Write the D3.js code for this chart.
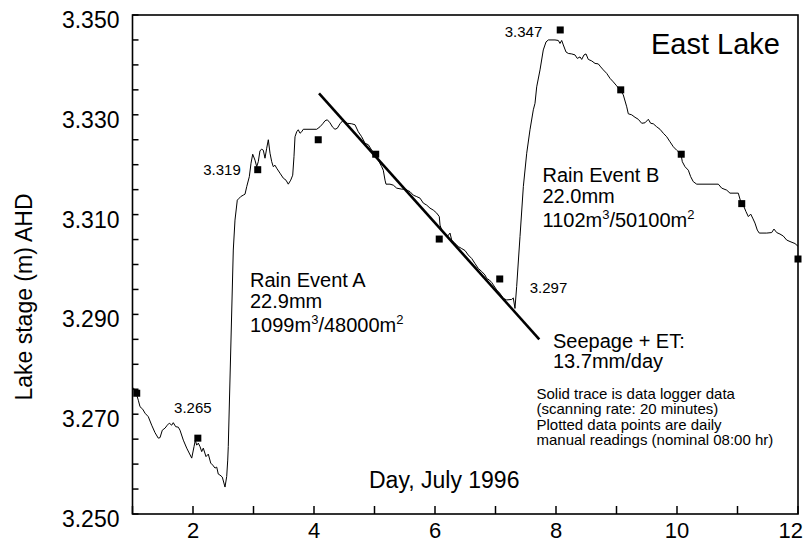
<!DOCTYPE html>
<html>
<head>
<meta charset="utf-8">
<script src="https://cdn.jsdelivr.net/npm/d3@7"></script>
<style>
  body { margin: 0; background: #fff; }
  svg { display: block; font-family: "Liberation Sans", Arial, Helvetica, sans-serif; }
</style>
</head>
<body>
<div id="chart-container"></div>
<script>
// data logger trace, [day of July 1996, lake stage m AHD]
const loggerTrace = [
  [1.013,3.2753],[1.053,3.2745],[1.096,3.2728],[1.124,3.2715],[1.169,3.2710],[1.207,3.2702],[1.261,3.2695],
  [1.317,3.2678],[1.372,3.2663],[1.426,3.2652],[1.455,3.2653],[1.493,3.2668],[1.537,3.2672],[1.575,3.2678],
  [1.608,3.2682],[1.648,3.2678],[1.674,3.2683],[1.714,3.2675],[1.757,3.2674],[1.785,3.2668],[1.840,3.2648],
  [1.896,3.2632],[1.979,3.2612],[2.017,3.2635],[2.038,3.2648],[2.061,3.2638],[2.088,3.2642],[2.116,3.2635],
  [2.144,3.2625],[2.170,3.2632],[2.215,3.2615],[2.253,3.2620],[2.293,3.2602],[2.326,3.2598],[2.364,3.2592],
  [2.392,3.2594],[2.418,3.2580],[2.446,3.2578],[2.484,3.2574],[2.529,3.2554],[2.557,3.2575],[2.574,3.2608],
  [2.583,3.2635],[2.666,3.3029],[2.694,3.3089],[2.732,3.3129],[2.765,3.3133],[2.788,3.3136],[2.831,3.3139],
  [2.860,3.3141],[2.888,3.3156],[2.931,3.3176],[2.959,3.3203],[2.987,3.3221],[3.025,3.3209],[3.053,3.3196],
  [3.079,3.3206],[3.107,3.3228],[3.136,3.3231],[3.162,3.3229],[3.190,3.3213],[3.218,3.3233],[3.245,3.3250],
  [3.273,3.3223],[3.301,3.3206],[3.327,3.3196],[3.355,3.3199],[3.383,3.3193],[3.438,3.3183],[3.493,3.3173],
  [3.537,3.3169],[3.575,3.3161],[3.615,3.3169],[3.648,3.3179],[3.669,3.3216],[3.686,3.3256],[3.714,3.3266],
  [3.740,3.3270],[3.769,3.3263],[3.797,3.3266],[3.823,3.3271],[4.045,3.3271],[4.099,3.3276],[4.144,3.3282],
  [4.182,3.3288],[4.220,3.3290],[4.264,3.3284],[4.309,3.3275],[4.347,3.3271],[4.385,3.3273],[4.430,3.3282],
  [4.474,3.3288],[4.512,3.3286],[4.550,3.3283],[4.623,3.3282],[4.678,3.3280],[4.732,3.3266],[4.788,3.3256],
  [4.843,3.3243],[4.898,3.3240],[4.954,3.3229],[5.008,3.3223],[5.063,3.3209],[5.119,3.3196],[5.145,3.3189],
  [5.174,3.3169],[5.190,3.3161],[5.256,3.3161],[5.311,3.3159],[5.367,3.3153],[5.450,3.3151],[5.504,3.3151],
  [5.587,3.3146],[5.641,3.3139],[5.698,3.3136],[5.752,3.3133],[5.807,3.3123],[5.863,3.3119],[5.917,3.3113],
  [5.972,3.3109],[6.028,3.3103],[6.071,3.3096],[6.083,3.3079],[6.111,3.3069],[6.165,3.3063],[6.203,3.3056],
  [6.248,3.3063],[6.276,3.3049],[6.331,3.3042],[6.385,3.3036],[6.441,3.3032],[6.496,3.3028],[6.550,3.3019],
  [6.607,3.3012],[6.661,3.3002],[6.716,3.2992],[6.772,3.2986],[6.826,3.2979],[6.855,3.2972],[6.898,3.2969],
  [6.937,3.2964],[7.020,3.2949],[7.074,3.2942],[7.129,3.2932],[7.185,3.2929],[7.268,3.2930],[7.294,3.2933],
  [7.322,3.2912],[7.350,3.2956],[7.405,3.3056],[7.460,3.3156],[7.516,3.3223],[7.570,3.3270],[7.625,3.3310],
  [7.653,3.3323],[7.681,3.3356],[7.736,3.3390],[7.790,3.3430],[7.835,3.3446],[7.873,3.3450],[7.983,3.3450],
  [8.038,3.3449],[8.066,3.3443],[8.094,3.3449],[8.121,3.3440],[8.165,3.3426],[8.203,3.3423],[8.260,3.3422],
  [8.314,3.3420],[8.352,3.3413],[8.397,3.3416],[8.425,3.3411],[8.463,3.3420],[8.496,3.3422],[8.534,3.3411],
  [8.590,3.3408],[8.645,3.3403],[8.699,3.3402],[8.739,3.3396],[8.782,3.3390],[8.838,3.3383],[8.893,3.3373],
  [8.947,3.3366],[9.003,3.3358],[9.058,3.3350],[9.112,3.3340],[9.169,3.3316],[9.195,3.3302],[9.251,3.3300],
  [9.306,3.3295],[9.360,3.3291],[9.417,3.3283],[9.471,3.3284],[9.526,3.3291],[9.565,3.3283],[9.608,3.3282],
  [9.664,3.3276],[9.719,3.3271],[9.774,3.3263],[9.830,3.3256],[9.884,3.3246],[9.939,3.3236],[9.995,3.3229],
  [10.066,3.3221],[10.088,3.3206],[10.132,3.3196],[10.187,3.3189],[10.226,3.3176],[10.269,3.3166],[10.326,3.3161],
  [10.683,3.3161],[10.739,3.3153],[10.822,3.3149],[10.876,3.3143],[11.013,3.3143],[11.053,3.3126],[11.096,3.3119],
  [11.140,3.3106],[11.179,3.3096],[11.218,3.3101],[11.251,3.3093],[11.289,3.3083],[11.327,3.3069],[11.360,3.3063],
  [11.483,3.3063],[11.565,3.3064],[11.603,3.3071],[11.648,3.3064],[11.702,3.3061],[11.757,3.3057],[11.813,3.3049],
  [11.868,3.3046],[11.950,3.3042],[12.005,3.3036]
];

// daily manual readings
const readingDays = [1.07, 2.08, 3.07, 4.07, 5.02, 6.07, 7.07, 8.07, 9.07, 10.07, 11.07, 12.0];
const readingStage = [3.2742, 3.2652, 3.3190, 3.3250, 3.3221, 3.3051, 3.2971, 3.3470, 3.3350, 3.3221, 3.3122, 3.3011];

// readings that carry a value label (indices into the readings)
const labelledReadings = [1, 2, 6, 7];

// seepage + ET fitted line
const seepageDays = [4.083, 7.724];
const seepageStage = [3.3343, 3.2850];

// axes
const yTickLabels = [3.250, 3.270, 3.290, 3.310, 3.330, 3.350];
const yMinorTicks = d3.range(3.250, 3.3501, 0.005);
const xTickLabels = [2, 4, 6, 8, 10, 12];
const xMinorTicks = d3.range(1, 13, 1);

const width = 805;
const height = 544;

const x = d3.scaleLinear().domain([1, 12]).range([132.5, 798]);
const y = d3.scaleLinear().domain([3.25, 3.35]).range([514, 15]);

const svg = d3
  .select("#chart-container")
  .append("svg")
  .attr("width", width)
  .attr("height", height);

svg.append("defs")
  .append("clipPath")
  .attr("id", "plot-clip")
  .append("rect")
  .attr("x", x(1))
  .attr("y", y(3.35))
  .attr("width", x(12) - x(1))
  .attr("height", y(3.25) - y(3.35));

// ticks (inward)
svg.append("g")
  .selectAll("line")
  .data(yMinorTicks)
  .join("line")
  .attr("x1", x(1))
  .attr("x2", x(1) + 6)
  .attr("y1", (d) => y(d))
  .attr("y2", (d) => y(d))
  .attr("stroke", "#000")
  .attr("stroke-width", 1.5);

svg.append("g")
  .selectAll("line")
  .data(xMinorTicks)
  .join("line")
  .attr("x1", (d) => x(d))
  .attr("x2", (d) => x(d))
  .attr("y1", y(3.25))
  .attr("y2", y(3.25) - 8)
  .attr("stroke", "#000")
  .attr("stroke-width", 1.5);

// tick labels
svg.append("g")
  .attr("font-size", 23)
  .attr("text-anchor", "end")
  .selectAll("text")
  .data(yTickLabels)
  .join("text")
  .attr("x", x(1) - 13)
  .attr("y", (d) => y(d) + 13)
  .text((d) => d.toFixed(3));

svg.append("g")
  .attr("font-size", 22)
  .selectAll("text")
  .data(xTickLabels)
  .join("text")
  .attr("x", (d) => (d === 12 ? width - 2 : x(d)))
  .attr("text-anchor", (d) => (d === 12 ? "end" : "middle"))
  .attr("y", 538)
  .text((d) => d);

// frame
svg.append("rect")
  .attr("x", x(1))
  .attr("y", y(3.35))
  .attr("width", x(12) - x(1))
  .attr("height", y(3.25) - y(3.35))
  .attr("fill", "none")
  .attr("stroke", "#000")
  .attr("stroke-width", 1.6);

// axis titles
svg.append("text")
  .attr("transform", `translate(32,297) rotate(-90)`)
  .attr("text-anchor", "middle")
  .attr("font-size", 23)
  .text("Lake stage (m) AHD");

svg.append("text")
  .attr("x", 369)
  .attr("y", 488)
  .attr("font-size", 23)
  .text("Day, July 1996");

svg.append("text")
  .attr("x", 780)
  .attr("y", 54)
  .attr("text-anchor", "end")
  .attr("font-size", 29)
  .text("East Lake");

const plot = svg.append("g").attr("clip-path", "url(#plot-clip)");

// logger trace
const line = d3.line().x((d) => x(d[0])).y((d) => y(d[1]));
plot.append("path")
  .attr("fill", "none")
  .attr("stroke", "#000")
  .attr("stroke-width", 1)
  .attr("stroke-linejoin", "round")
  .attr("d", line(loggerTrace));

// seepage line
plot.append("line")
  .attr("x1", x(seepageDays[0]))
  .attr("y1", y(seepageStage[0]))
  .attr("x2", x(seepageDays[1]))
  .attr("y2", y(seepageStage[1]))
  .attr("stroke", "#000")
  .attr("stroke-width", 2.6);

// manual readings
const readings = readingDays.map((d, i) => ({ day: d, stage: readingStage[i] }));
svg.append("g")
  .selectAll("rect")
  .data(readings)
  .join("rect")
  .attr("x", (d) => x(d.day) - 3.5)
  .attr("y", (d) => y(d.stage) - 3.5)
  .attr("width", 7)
  .attr("height", 7)
  .attr("fill", "#000");

// value labels on selected readings
const labelOffsets = { 1: [-5, -25, "middle"], 2: [-17, 5, "end"], 6: [30, 14, "start"], 7: [-18, 7, "end"] };
svg.append("g")
  .attr("font-size", 15)
  .selectAll("text")
  .data(labelledReadings)
  .join("text")
  .attr("x", (i) => x(readings[i].day) + labelOffsets[i][0])
  .attr("y", (i) => y(readings[i].stage) + labelOffsets[i][1])
  .attr("text-anchor", (i) => labelOffsets[i][2])
  .text((i) => readings[i].stage.toFixed(3));

// annotations
function textLines(x0, lines) {
  const g = svg.append("g").attr("font-size", 20);
  lines.forEach(([yy, s]) => g.append("text").attr("x", x0).attr("y", yy).text(s));
}

function supLine(x0, yy, base1, sup1, base2, sup2) {
  const t = svg.append("text").attr("x", x0).attr("y", yy).attr("font-size", 20);
  t.append("tspan").text(base1);
  t.append("tspan").attr("font-size", 13).attr("dy", -8).text(sup1);
  t.append("tspan").attr("dy", 8).text(base2);
  t.append("tspan").attr("font-size", 13).attr("dy", -8).text(sup2);
}

textLines(250, [[286.5, "Rain Event A"], [308, "22.9mm"]]);
supLine(250, 332, "1099m", "3", "/48000m", "2");

textLines(542.5, [[181.5, "Rain Event B"], [203, "22.0mm"]]);
supLine(542.5, 226.5, "1102m", "3", "/50100m", "2");

textLines(553, [[347.5, "Seepage + ET:"], [368, "13.7mm/day"]]);

const note = svg.append("g").attr("font-size", 15);
["Solid trace is data logger data", "(scanning rate: 20 minutes)",
 "Plotted data points are daily", "manual readings (nominal 08:00 hr)"].forEach((s, i) => {
  note.append("text").attr("x", 536.5).attr("y", 398.5 + i * 15.5).text(s);
});
</script>
</body>
</html>
